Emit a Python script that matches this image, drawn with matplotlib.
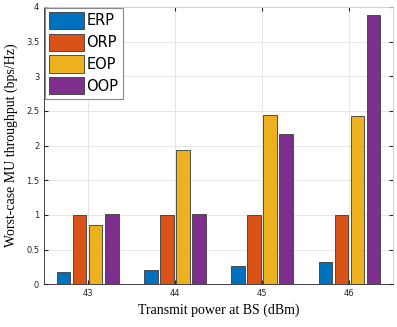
import numpy as np
import matplotlib.pyplot as plt

powers = [43, 44, 45, 46]
erp = [0.17, 0.21, 0.26, 0.32]
orp = [1.0, 1.0, 1.0, 1.0]
eop = [0.85, 1.93, 2.44, 2.42]
oop = [1.01, 1.01, 2.16, 3.88]
labels = ['ERP', 'ORP', 'EOP', 'OOP']
colors = ['#0072BD', '#D95319', '#EDB120', '#7E2F8E']

fig = plt.figure(figsize=(3.97, 3.27), dpi=100)
ax = fig.add_axes([0.111, 0.131, 0.879, 0.848])

x = np.array(powers, dtype=float)
offsets = [-0.276, -0.092, 0.092, 0.276]
for s, off, lab, c in zip([erp, orp, eop, oop], offsets, labels, colors):
    ax.bar(x + off, s, width=0.155, color=c, edgecolor='#3a3a3a', linewidth=0.6, label=lab, zorder=3)

ax.set_xlim(42.5, 46.5)
ax.set_ylim(0, 4)
ax.set_xticks(powers)
ax.set_yticks(np.arange(0, 4.01, 0.5))
ax.set_yticklabels(['0', '0.5', '1', '1.5', '2', '2.5', '3', '3.5', '4'])
ax.tick_params(labelsize=6, direction='in', length=3, colors='#262626', top=True, right=True)
ax.grid(True, color='#e6e6e6', linewidth=0.7, zorder=0)
for sp in ax.spines.values():
    sp.set_color('#262626')
    sp.set_linewidth(0.6)
ax.spines['top'].set_color('#cccccc')
ax.spines['right'].set_color('#cccccc')

ax.set_xlabel('Transmit power at BS (dBm)', family='Liberation Serif', fontsize=10, labelpad=4)
ax.set_ylabel('Worst-case MU throughput (bps/Hz)', family='Liberation Serif', fontsize=10, labelpad=6)

leg = ax.legend(loc='upper left', fontsize=10.5, handlelength=2.4, handleheight=1.45,
                handletextpad=0.15, borderaxespad=0.05, borderpad=0.3, labelspacing=0.3,
                fancybox=False, framealpha=1, edgecolor='#888888')
leg.get_frame().set_linewidth(0.8)

fig.savefig('out.png', dpi=100)
